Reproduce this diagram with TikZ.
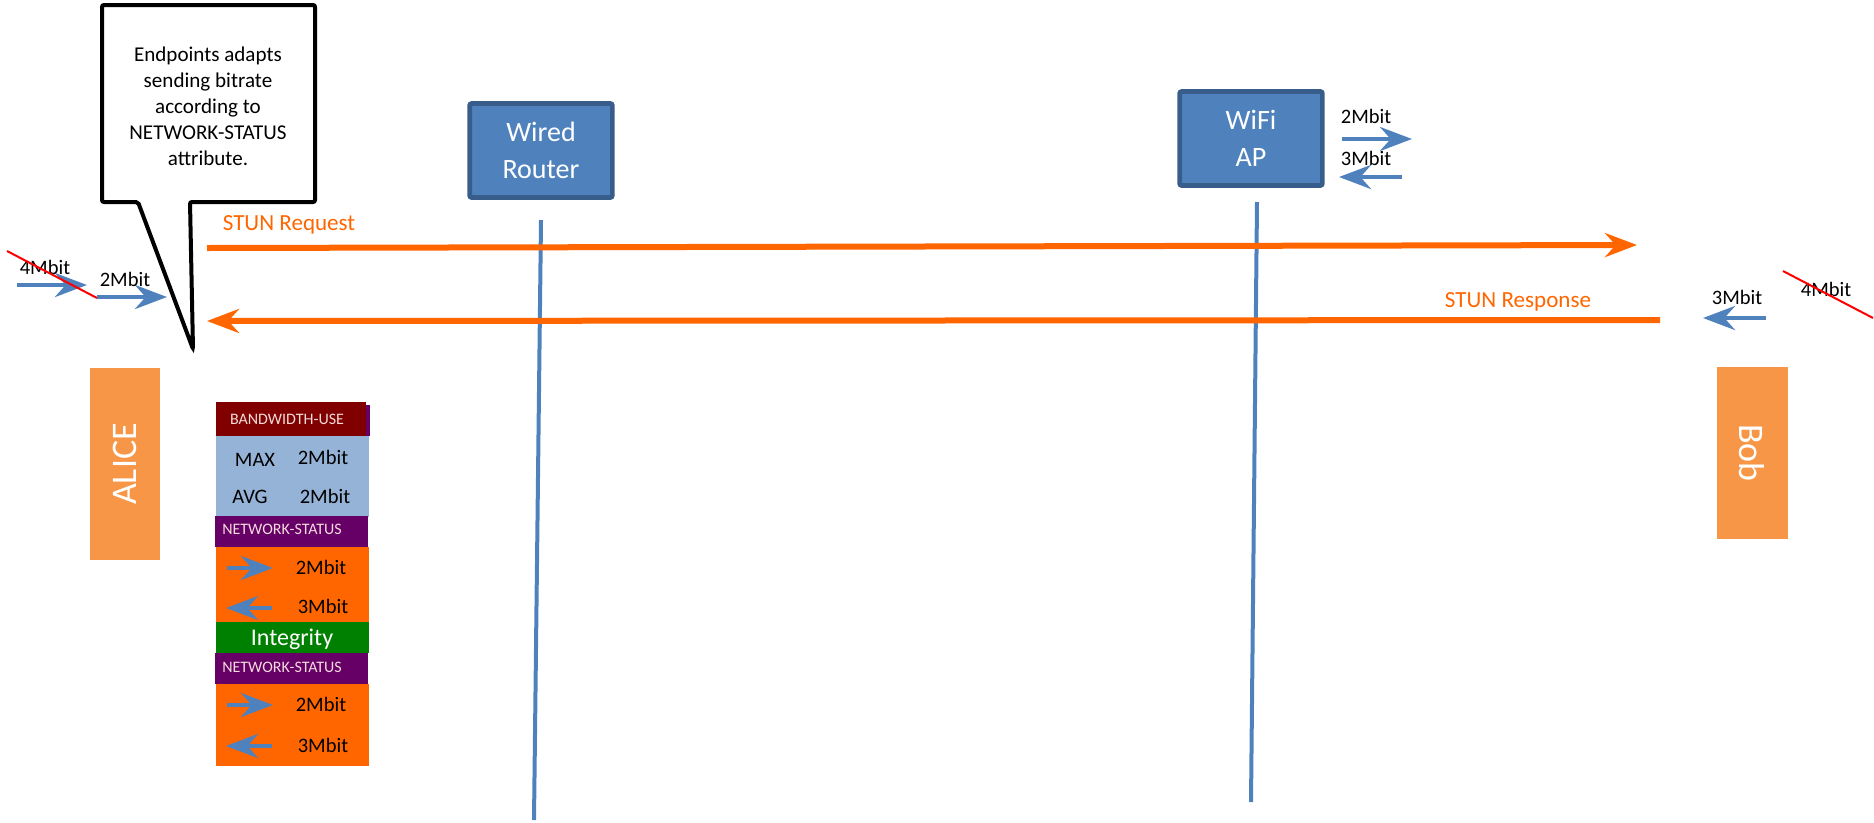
\documentclass[tikz,border=0pt]{standalone}
\usepackage{fontspec}
\setmainfont{Carlito}
\usetikzlibrary{arrows.meta}
\definecolor{cblue}{HTML}{4F81BD}
\definecolor{cblueb}{HTML}{385D8A}
\definecolor{corange}{HTML}{FF6600}
\definecolor{cpeach}{HTML}{F79646}
\definecolor{cmaroon}{HTML}{800000}
\definecolor{cpurple}{HTML}{660066}
\definecolor{clight}{HTML}{95B3D7}
\definecolor{cgreen}{HTML}{008000}
\definecolor{cpink}{HTML}{F2DCDB}
\definecolor{cred}{HTML}{FF0000}
\begin{document}
\begin{tikzpicture}[x=0.75pt,y=-0.75pt,
  blueArrow/.style={draw=cblue, line width=3.6pt, -{Stealth[length=24pt,width=18pt,inset=8pt]}},
  orangeArrow/.style={draw=corange, line width=4.5pt, -{Stealth[length=24pt,width=18pt,inset=8pt]}},
  lifeline/.style={draw=cblue, line width=3pt},
  strike/.style={draw=cred, line width=1.5pt},
  lbl/.style={font=\fontsize{15.4}{18}\selectfont, inner sep=0pt, text height=9.9pt, text depth=0pt},
  small/.style={font=\fontsize{12}{14}\selectfont, inner sep=0pt, text=cpink, text height=7.7pt, text depth=0pt},
  stun/.style={font=\fontsize{17.3}{20}\selectfont, inner sep=0pt, text=corange, text height=11.1pt, text depth=0pt},
  device/.style={draw=cblueb, fill=cblue, line width=3.5pt, rounded corners=1.5pt, minimum width=107pt, minimum height=70.5pt, text=white, align=center, font=\fontsize{21}{27.75}\selectfont},
  party/.style={fill=cpeach, inner sep=0pt, text=white, font=\fontsize{27}{30}\selectfont},
  callout/.style={draw=black, fill=white, line width=3pt, rounded corners=1.5pt}
]
\useasboundingbox (0,0) rectangle (1874,822);

% lifelines
\node[device] (router) at (541,150.5) {Wired\\Router};
\node[device] (wifi) at (1251,138.5) {WiFi\\AP};
\coordinate (rtop) at (541,220);
\coordinate (rbot) at (534,820);
\coordinate (wtop) at (1257,202);
\coordinate (wbot) at (1251,802);
\draw[lifeline] (rtop) -- (rbot);
\draw[lifeline] (wtop) -- (wbot);

% parties
\node[party, minimum width=52.5pt, minimum height=144pt] (alice) at (125,464) {};
\node[party, rotate=90] at (alice.center) {ALICE};
\node[party, minimum width=53.25pt, minimum height=129pt] (bob) at (1752,453) {};
\node[party, rotate=-90] at (bob.center) {Bob};

% left bitrate arrows
\coordinate (la1) at (17,285); \coordinate (la2) at (87,285);
\coordinate (lb1) at (97,297); \coordinate (lb2) at (167,297);
\draw[blueArrow] (la1) -- (la2);
\draw[blueArrow] (lb1) -- (lb2);
\node[lbl] (l4) at (45,268) {4Mbit};
\node[lbl] (l2) at (125,280) {2Mbit};
\coordinate (ls1) at (7,251); \coordinate (ls2) at (97,298);
\draw[strike] (ls1) -- (ls2);

% callout
\draw[callout] (102,5) -- (315,5) -- (315,202) -- (190,202) -- (193,349) -- (138,202) -- (102,202) -- cycle;
\node[align=center, inner sep=0pt, font=\fontsize{15.8}{19.5}\selectfont] (note) at (208,106)
  {Endpoints adapts\\sending bitrate\\according to\\NETWORK-STATUS\\attribute.};

% STUN messages
\coordinate (rq1) at (207,248); \coordinate (rq2) at (1637,245);
\draw[orangeArrow] (rq1) -- (rq2);
\node[stun] (rqt) at (289,223) {STUN Request};
\coordinate (rs1) at (1660,320); \coordinate (rs2) at (207,321);
\draw[orangeArrow] (rs1) -- (rs2);
\node[stun] (rst) at (1518,300) {STUN Response};

% right bitrate
\coordinate (rb1) at (1766,318); \coordinate (rb2) at (1703,318);
\draw[blueArrow] (rb1) -- (rb2);
\node[lbl] (r3) at (1737,298) {3Mbit};
\node[lbl] (r4) at (1826,290) {4Mbit};
\coordinate (rsk1) at (1783,271); \coordinate (rsk2) at (1873,318);
\draw[strike] (rsk1) -- (rsk2);

% wifi bitrate
\coordinate (w1a) at (1342,139); \coordinate (w1b) at (1412,139);
\coordinate (w2a) at (1402,177); \coordinate (w2b) at (1339,177);
\draw[blueArrow] (w1a) -- (w1b);
\draw[blueArrow] (w2a) -- (w2b);
\node[lbl] (w2) at (1366,117) {2Mbit};
\node[lbl] (w3) at (1366,159) {3Mbit};

% attribute stack
\fill[cpurple] (220,405) rectangle (370,436);
\fill[cmaroon] (216,402) rectangle (366,436);
\node[small] (bw) at (287,419) {BANDWIDTH-USE};
\fill[clight] (216,436) rectangle (369,517);
\node[lbl] (mx) at (255,460) {MAX};
\node[lbl] (mxv) at (323,458) {2Mbit};
\node[lbl] (av) at (250,497) {AVG};
\node[lbl] (avv) at (325,497) {2Mbit};
\fill[cpurple] (215,516) rectangle (368,547);
\node[small] (ns1) at (282,529) {NETWORK-STATUS};
\fill[corange] (216,547) rectangle (369,622);
\coordinate (s1a) at (227,568); \coordinate (s1b) at (273,568);
\coordinate (s2a) at (272,608); \coordinate (s2b) at (226,608);
\draw[blueArrow] (s1a) -- (s1b);
\draw[blueArrow] (s2a) -- (s2b);
\node[lbl] (s1t) at (321,568) {2Mbit};
\node[lbl] (s2t) at (323,607) {3Mbit};
\fill[cgreen] (216,622) rectangle (369,653);
\node[inner sep=0pt, text=white, font=\fontsize{18}{20}\selectfont, text height=11.6pt, text depth=0pt] (integ) at (292,638) {Integrity};
\fill[cpurple] (215,653) rectangle (368,684);
\node[small] (ns2) at (282,667) {NETWORK-STATUS};
\fill[corange] (216,684) rectangle (369,766);
\coordinate (s3a) at (227,705); \coordinate (s3b) at (273,705);
\coordinate (s4a) at (272,746); \coordinate (s4b) at (226,746);
\draw[blueArrow] (s3a) -- (s3b);
\draw[blueArrow] (s4a) -- (s4b);
\node[lbl] (s3t) at (321,705) {2Mbit};
\node[lbl] (s4t) at (323,746) {3Mbit};
\end{tikzpicture}
\end{document}
